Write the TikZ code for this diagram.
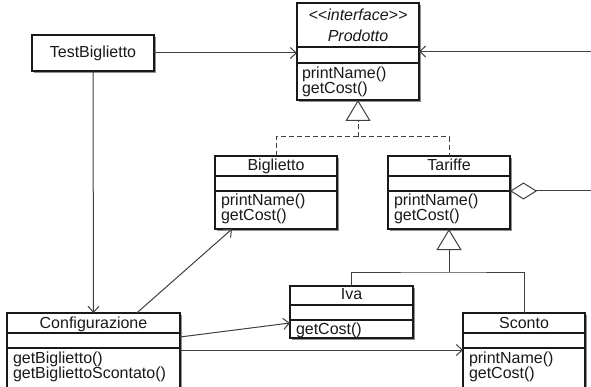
\documentclass[tikz,border=0pt]{standalone}
\usepackage{fontspec}
\setmainfont{Liberation Sans}
\usetikzlibrary{arrows.meta,shadows,calc}
\begin{document}
\begin{tikzpicture}[x=1pt,y=-1pt,
  cls/.style={draw=black!90,line width=1.1pt,fill=white,inner sep=0pt,outer sep=0pt,anchor=north west,
    drop shadow={shadow xshift=1.8pt,shadow yshift=-2.2pt,opacity=0.55,fill=black!80}},
  div/.style={draw=black!90,line width=1.1pt},
  txt/.style={inner sep=0pt,outer sep=0pt,font=\fontsize{16}{17}\selectfont,text=black!90},
  conn/.style={draw=black!75,line width=1pt},
  dashline/.style={dash pattern=on 5pt off 3pt},
  dep/.style={conn,-{Straight Barb[length=6pt,width=11pt,line width=1pt]}},
  gen/.style={conn,-{Triangle[open,length=21pt,width=25pt,line width=1pt,fill=white]}},
  agg/.style={conn,{Diamond[open,length=27pt,width=17pt,line width=1pt,fill=white]}-}]
\useasboundingbox (0,0) rectangle (591,387);
\fill[white] (0,0) rectangle (591,387);
\begin{scope}
\clip (0,0) rectangle (591,387);
% Prodotto
\node[cls,minimum width=122pt,minimum height=97pt] (prod) at (297,3) {};
\draw[div] (297,47) -- (419,47) (297,63) -- (419,63);
\node[txt,anchor=base,font=\fontsize{16}{17}\selectfont\itshape] (prods) at (358,21) {{<}{<}interface{>}{>}};
\node[txt,anchor=base,font=\fontsize{16}{17}\selectfont\itshape] (prodn) at (358,42) {Prodotto};
\node[txt,anchor=base west] (prodm1) at (302,79) {printName()};
\node[txt,anchor=base west] (prodm2) at (302,94) {getCost()};
% TestBiglietto
\node[cls,minimum width=122pt,minimum height=36pt] (tb) at (32,35) {};
\node[txt,anchor=base] (tbn) at (93,58) {TestBiglietto};
% Biglietto
\node[cls,minimum width=122pt,minimum height=73pt] (big) at (215,156) {};
\draw[div] (215,176) -- (337,176) (215,191) -- (337,191);
\node[txt,anchor=base] (bign) at (276,171) {Biglietto};
\node[txt,anchor=base west] (bigm1) at (221,206) {printName()};
\node[txt,anchor=base west] (bigm2) at (221,221) {getCost()};
% Tariffe
\node[cls,minimum width=122pt,minimum height=73pt] (tar) at (388,156) {};
\draw[div] (388,176) -- (510,176) (388,191) -- (510,191);
\node[txt,anchor=base] (tarn) at (449,171) {Tariffe};
\node[txt,anchor=base west] (tarm1) at (394,206) {printName()};
\node[txt,anchor=base west] (tarm2) at (394,221) {getCost()};
% Iva
\node[cls,minimum width=123pt,minimum height=52pt] (iva) at (290,286) {};
\draw[div] (290,305) -- (413,305) (290,320) -- (413,320);
\node[txt,anchor=base] (ivan) at (351.5,299) {Iva};
\node[txt,anchor=base west] (ivam1) at (296,334) {getCost()};
% Sconto
\node[cls,minimum width=122pt,minimum height=84pt] (sco) at (463,313) {};
\draw[div] (463,333) -- (585,333) (463,348) -- (585,348);
\node[txt,anchor=base] (scon) at (524,328) {Sconto};
\node[txt,anchor=base west] (scom1) at (469,363) {printName()};
\node[txt,anchor=base west] (scom2) at (469,378) {getCost()};
% Configurazione
\node[cls,minimum width=173pt,minimum height=84pt] (conf) at (7,313) {};
\draw[div] (7,333) -- (180,333) (7,348) -- (180,348);
\node[txt,anchor=base] (confn) at (93.5,328) {Configurazione};
\node[txt,anchor=base west] (confm1) at (13,363) {getBiglietto()};
\node[txt,anchor=base west] (confm2) at (13,378) {getBigliettoScontato()};
\end{scope}
% connectors
\coordinate (rin) at (591,51.5);
\coordinate (rout) at (591,191);
\coordinate (j1) at (358,137);
\coordinate (j2) at (449,272);
\draw[dep] (rin) -- (prod.east);
\draw[dep] (tb.east) -- (tb.east -| prod.west);
\draw[dep] (tb.south) -- (conf.north);
\draw[conn,dashline] (big.north) |- (j1) -| (tar.north);
\draw[gen,dashline] (j1) -- (prod.south);
\draw[conn] (iva.north) |- (j2) -| (sco.north);
\draw[gen] (j2) -- (tar.south);
\draw[agg] (tar.east |- rout) -- (rout);
\draw[dep] ($(conf.north west)!0.75!(conf.north east)$) -- ($(big.south west)+(17,0)$);
\draw[dep] ($(conf.north east)+(0,24)$) -- ($(iva.north west)+(0,37)$);
\draw[dep] ($(conf.north east)+(0,37)$) -- ($(sco.north west)+(0,37)$);
\end{tikzpicture}
\end{document}
